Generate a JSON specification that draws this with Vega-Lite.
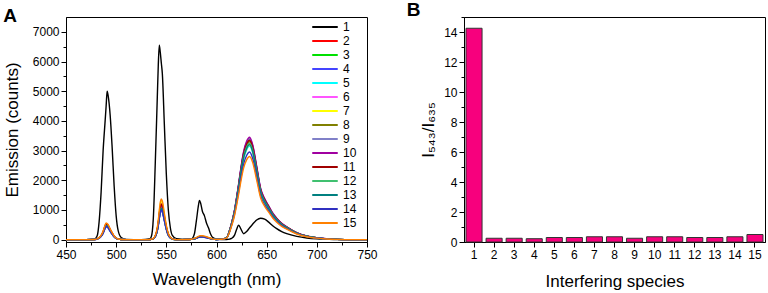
{
  "$schema": "https://vega.github.io/schema/vega-lite/v6.json",
  "padding": {"left": 2, "top": 0, "right": 0, "bottom": 0},
  "config": {
    "font": "Liberation Sans",
    "view": {"stroke": "black", "strokeWidth": 1},
    "axis": {"domainColor": "black", "tickColor": "black", "labelColor": "black", "titleColor": "black", "labelFontSize": 12, "titleFontSize": 17, "titleFontWeight": "normal", "grid": false, "tickSize": 5, "labelFont": "Liberation Sans", "titleFont": "Liberation Sans"},
    "title": {"fontSize": 19, "fontWeight": "bold", "anchor": "start", "frame": "bounds", "color": "black", "font": "Liberation Sans"}
  },
  "datasets": {
    "spec": [
      {"w":450,"1":0,"2":0,"3":0,"4":0,"5":0,"6":0,"7":0,"8":0,"9":0,"10":0,"11":0,"12":0,"13":0,"14":0,"15":0},
      {"w":470,"1":0,"2":0,"3":0,"4":0,"5":0,"6":0,"7":0,"8":0,"9":0,"10":0,"11":0,"12":0,"13":0,"14":0,"15":0},
      {"w":478,"1":10,"2":5,"3":5,"4":4,"5":5,"6":5,"7":5,"8":5,"9":4,"10":5,"11":5,"12":5,"13":5,"14":4,"15":6},
      {"w":481,"1":120,"2":27,"3":24,"4":22,"5":24,"6":24,"7":26,"8":25,"9":22,"10":24,"11":26,"12":24,"13":24,"14":22,"15":28},
      {"w":483,"1":600,"2":65,"3":58,"4":52,"5":56,"6":56,"7":62,"8":60,"9":53,"10":58,"11":62,"12":56,"13":56,"14":53,"15":67},
      {"w":485,"1":1600,"2":135,"3":120,"4":108,"5":118,"6":118,"7":130,"8":125,"9":110,"10":120,"11":130,"12":118,"13":118,"14":110,"15":140},
      {"w":487,"1":3000,"2":270,"3":240,"4":215,"5":235,"6":235,"7":260,"8":250,"9":220,"10":240,"11":260,"12":235,"13":235,"14":220,"15":280},
      {"w":489,"1":4000,"2":475,"3":422,"4":378,"5":414,"6":414,"7":458,"8":440,"9":387,"10":422,"11":458,"12":414,"13":414,"14":387,"15":493},
      {"w":490,"1":4500,"2":540,"3":480,"4":430,"5":470,"6":470,"7":520,"8":500,"9":440,"10":480,"11":520,"12":470,"13":470,"14":440,"15":560},
      {"w":491,"1":5000,"2":524,"3":466,"4":417,"5":456,"6":456,"7":504,"8":485,"9":427,"10":466,"11":504,"12":456,"13":456,"14":427,"15":543},
      {"w":492,"1":4850,"2":486,"3":432,"4":387,"5":423,"6":423,"7":468,"8":450,"9":396,"10":432,"11":468,"12":423,"13":423,"14":396,"15":504},
      {"w":494,"1":4200,"2":351,"3":312,"4":280,"5":306,"6":306,"7":338,"8":325,"9":286,"10":312,"11":338,"12":306,"13":306,"14":286,"15":364},
      {"w":496,"1":3100,"2":227,"3":202,"4":181,"5":197,"6":197,"7":218,"8":210,"9":185,"10":202,"11":218,"12":197,"13":197,"14":185,"15":235},
      {"w":498,"1":1800,"2":119,"3":106,"4":95,"5":103,"6":103,"7":114,"8":110,"9":97,"10":106,"11":114,"12":103,"13":103,"14":97,"15":123},
      {"w":500,"1":800,"2":54,"3":48,"4":43,"5":47,"6":47,"7":52,"8":50,"9":44,"10":48,"11":52,"12":47,"13":47,"14":44,"15":56},
      {"w":502,"1":300,"2":22,"3":19,"4":17,"5":19,"6":19,"7":21,"8":20,"9":18,"10":19,"11":21,"12":19,"13":19,"14":18,"15":22},
      {"w":505,"1":70,"2":5,"3":5,"4":4,"5":5,"6":5,"7":5,"8":5,"9":4,"10":5,"11":5,"12":5,"13":5,"14":4,"15":6},
      {"w":510,"1":10,"2":0,"3":0,"4":0,"5":0,"6":0,"7":0,"8":0,"9":0,"10":0,"11":0,"12":0,"13":0,"14":0,"15":0},
      {"w":525,"1":0,"2":0,"3":0,"4":0,"5":0,"6":0,"7":0,"8":0,"9":0,"10":0,"11":0,"12":0,"13":0,"14":0,"15":0},
      {"w":533,"1":20,"2":0,"3":0,"4":0,"5":0,"6":0,"7":0,"8":0,"9":0,"10":0,"11":0,"12":0,"13":0,"14":0,"15":0},
      {"w":535,"1":100,"2":12,"3":11,"4":10,"5":11,"6":11,"7":13,"8":12,"9":10,"10":12,"11":12,"12":11,"13":11,"14":10,"15":14},
      {"w":537,"1":700,"2":35,"3":32,"4":29,"5":33,"6":32,"7":39,"8":35,"9":30,"10":35,"11":36,"12":32,"13":32,"14":30,"15":41},
      {"w":539,"1":2600,"2":115,"3":105,"4":98,"5":110,"6":105,"7":130,"8":115,"9":100,"10":115,"11":120,"12":105,"13":105,"14":100,"15":137},
      {"w":541,"1":4800,"2":345,"3":315,"4":294,"5":330,"6":315,"7":390,"8":345,"9":300,"10":345,"11":360,"12":315,"13":315,"14":300,"15":411},
      {"w":542,"1":5900,"2":552,"3":504,"4":470,"5":528,"6":504,"7":624,"8":552,"9":480,"10":552,"11":576,"12":504,"13":504,"14":480,"15":658},
      {"w":543,"1":6550,"2":828,"3":756,"4":706,"5":792,"6":756,"7":936,"8":828,"9":720,"10":828,"11":864,"12":756,"13":756,"14":720,"15":986},
      {"w":544,"1":6300,"2":1058,"3":966,"4":902,"5":1012,"6":966,"7":1196,"8":1058,"9":920,"10":1058,"11":1104,"12":966,"13":966,"14":920,"15":1260},
      {"w":545,"1":5950,"2":1150,"3":1050,"4":980,"5":1100,"6":1050,"7":1300,"8":1150,"9":1000,"10":1150,"11":1200,"12":1050,"13":1050,"14":1000,"15":1370},
      {"w":546,"1":5600,"2":1093,"3":998,"4":931,"5":1045,"6":998,"7":1235,"8":1093,"9":950,"10":1093,"11":1140,"12":998,"13":998,"14":950,"15":1302},
      {"w":548,"1":3900,"2":748,"3":683,"4":637,"5":715,"6":683,"7":845,"8":748,"9":650,"10":748,"11":780,"12":683,"13":683,"14":650,"15":891},
      {"w":550,"1":2200,"2":403,"3":368,"4":343,"5":385,"6":368,"7":455,"8":403,"9":350,"10":403,"11":420,"12":368,"13":368,"14":350,"15":480},
      {"w":552,"1":1000,"2":173,"3":158,"4":147,"5":165,"6":158,"7":195,"8":173,"9":150,"10":173,"11":180,"12":158,"13":158,"14":150,"15":206},
      {"w":554,"1":400,"2":69,"3":63,"4":59,"5":66,"6":63,"7":78,"8":69,"9":60,"10":69,"11":72,"12":63,"13":63,"14":60,"15":82},
      {"w":556,"1":140,"2":23,"3":21,"4":20,"5":22,"6":21,"7":26,"8":23,"9":20,"10":23,"11":24,"12":21,"13":21,"14":20,"15":27},
      {"w":560,"1":30,"2":0,"3":0,"4":0,"5":0,"6":0,"7":0,"8":0,"9":0,"10":0,"11":0,"12":0,"13":0,"14":0,"15":0},
      {"w":570,"1":5,"2":2,"3":2,"4":2,"5":2,"6":2,"7":2,"8":2,"9":2,"10":2,"11":2,"12":2,"13":2,"14":2,"15":3},
      {"w":575,"1":20,"2":10,"3":10,"4":9,"5":10,"6":10,"7":11,"8":10,"9":9,"10":10,"11":11,"12":10,"13":10,"14":9,"15":13},
      {"w":578,"1":200,"2":30,"3":30,"4":27,"5":30,"6":30,"7":33,"8":30,"9":27,"10":30,"11":33,"12":30,"13":30,"14":27,"15":39},
      {"w":580,"1":650,"2":55,"3":55,"4":50,"5":55,"6":55,"7":61,"8":55,"9":50,"10":55,"11":61,"12":55,"13":55,"14":50,"15":72},
      {"w":582,"1":1150,"2":85,"3":85,"4":77,"5":85,"6":85,"7":94,"8":85,"9":77,"10":85,"11":94,"12":85,"13":85,"14":77,"15":111},
      {"w":583,"1":1320,"2":95,"3":95,"4":86,"5":95,"6":95,"7":105,"8":95,"9":86,"10":95,"11":105,"12":95,"13":95,"14":86,"15":124},
      {"w":584,"1":1250,"2":100,"3":100,"4":90,"5":100,"6":100,"7":110,"8":100,"9":90,"10":100,"11":110,"12":100,"13":100,"14":90,"15":130},
      {"w":586,"1":950,"2":100,"3":100,"4":90,"5":100,"6":100,"7":110,"8":100,"9":90,"10":100,"11":110,"12":100,"13":100,"14":90,"15":130},
      {"w":588,"1":800,"2":90,"3":90,"4":81,"5":90,"6":90,"7":99,"8":90,"9":81,"10":90,"11":99,"12":90,"13":90,"14":81,"15":117},
      {"w":590,"1":560,"2":75,"3":75,"4":68,"5":75,"6":75,"7":83,"8":75,"9":68,"10":75,"11":83,"12":75,"13":75,"14":68,"15":98},
      {"w":592,"1":400,"2":55,"3":55,"4":50,"5":55,"6":55,"7":61,"8":55,"9":50,"10":55,"11":61,"12":55,"13":55,"14":50,"15":72},
      {"w":594,"1":200,"2":35,"3":35,"4":32,"5":35,"6":35,"7":39,"8":35,"9":32,"10":35,"11":39,"12":35,"13":35,"14":32,"15":46},
      {"w":596,"1":80,"2":20,"3":20,"4":18,"5":20,"6":20,"7":22,"8":20,"9":18,"10":20,"11":22,"12":20,"13":20,"14":18,"15":26},
      {"w":600,"1":20,"2":6,"3":6,"4":5,"5":6,"6":6,"7":7,"8":6,"9":5,"10":6,"11":7,"12":6,"13":6,"14":5,"15":8},
      {"w":605,"1":5,"2":17,"3":17,"4":17,"5":16,"6":16,"7":16,"8":17,"9":17,"10":17,"11":17,"12":16,"13":16,"14":15,"15":14},
      {"w":610,"1":5,"2":59,"3":60,"4":61,"5":57,"6":59,"7":58,"8":59,"9":61,"10":62,"11":60,"12":59,"13":58,"14":53,"15":50},
      {"w":613,"1":15,"2":297,"3":302,"4":306,"5":284,"6":293,"7":288,"8":297,"9":306,"10":311,"11":302,"12":293,"13":288,"14":266,"15":252},
      {"w":615,"1":40,"2":528,"3":536,"4":544,"5":504,"6":520,"7":512,"8":528,"9":544,"10":552,"11":536,"12":520,"13":512,"14":472,"15":448},
      {"w":618,"1":150,"2":957,"3":972,"4":986,"5":914,"6":943,"7":928,"8":957,"9":986,"10":1001,"11":972,"12":943,"13":928,"14":856,"15":812},
      {"w":620,"1":340,"2":1353,"3":1374,"4":1394,"5":1292,"6":1333,"7":1312,"8":1353,"9":1394,"10":1415,"11":1374,"12":1333,"13":1312,"14":1210,"15":1148},
      {"w":622,"1":490,"2":1782,"3":1809,"4":1836,"5":1701,"6":1755,"7":1728,"8":1782,"9":1836,"10":1863,"11":1809,"12":1755,"13":1728,"14":1593,"15":1512},
      {"w":624,"1":380,"2":2244,"3":2278,"4":2312,"5":2142,"6":2210,"7":2176,"8":2244,"9":2312,"10":2346,"11":2278,"12":2210,"13":2176,"14":2006,"15":1904},
      {"w":627,"1":200,"2":2838,"3":2881,"4":2924,"5":2709,"6":2795,"7":2752,"8":2838,"9":2924,"10":2967,"11":2881,"12":2795,"13":2752,"14":2537,"15":2408},
      {"w":630,"1":270,"2":3168,"3":3216,"4":3264,"5":3024,"6":3120,"7":3072,"8":3168,"9":3264,"10":3312,"11":3216,"12":3120,"13":3072,"14":2832,"15":2688},
      {"w":633,"1":400,"2":3300,"3":3350,"4":3400,"5":3150,"6":3250,"7":3200,"8":3300,"9":3400,"10":3450,"11":3350,"12":3250,"13":3200,"14":2950,"15":2800},
      {"w":636,"1":520,"2":3069,"3":3116,"4":3162,"5":2930,"6":3023,"7":2976,"8":3069,"9":3162,"10":3209,"11":3116,"12":3023,"13":2976,"14":2744,"15":2604},
      {"w":640,"1":660,"2":2376,"3":2412,"4":2448,"5":2268,"6":2340,"7":2304,"8":2376,"9":2448,"10":2484,"11":2412,"12":2340,"13":2304,"14":2124,"15":2016},
      {"w":644,"1":720,"2":1650,"3":1675,"4":1700,"5":1575,"6":1625,"7":1600,"8":1650,"9":1700,"10":1725,"11":1675,"12":1625,"13":1600,"14":1475,"15":1400},
      {"w":648,"1":690,"2":1320,"3":1340,"4":1360,"5":1260,"6":1300,"7":1280,"8":1320,"9":1360,"10":1380,"11":1340,"12":1300,"13":1280,"14":1180,"15":1120},
      {"w":652,"1":590,"2":1089,"3":1106,"4":1122,"5":1040,"6":1073,"7":1056,"8":1089,"9":1122,"10":1139,"11":1106,"12":1073,"13":1056,"14":974,"15":924},
      {"w":656,"1":470,"2":858,"3":871,"4":884,"5":819,"6":845,"7":832,"8":858,"9":884,"10":897,"11":871,"12":845,"13":832,"14":767,"15":728},
      {"w":660,"1":370,"2":693,"3":704,"4":714,"5":662,"6":683,"7":672,"8":693,"9":714,"10":725,"11":704,"12":683,"13":672,"14":620,"15":588},
      {"w":665,"1":270,"2":528,"3":536,"4":544,"5":504,"6":520,"7":512,"8":528,"9":544,"10":552,"11":536,"12":520,"13":512,"14":472,"15":448},
      {"w":670,"1":200,"2":413,"3":419,"4":425,"5":394,"6":406,"7":400,"8":413,"9":425,"10":431,"11":419,"12":406,"13":400,"14":369,"15":350},
      {"w":680,"1":110,"2":224,"3":228,"4":231,"5":214,"6":221,"7":218,"8":224,"9":231,"10":235,"11":228,"12":221,"13":218,"14":201,"15":190},
      {"w":690,"1":55,"2":116,"3":117,"4":119,"5":110,"6":114,"7":112,"8":116,"9":119,"10":121,"11":117,"12":114,"13":112,"14":103,"15":98},
      {"w":700,"1":25,"2":59,"3":60,"4":61,"5":57,"6":59,"7":58,"8":59,"9":61,"10":62,"11":60,"12":59,"13":58,"14":53,"15":50},
      {"w":710,"1":10,"2":26,"3":27,"4":27,"5":25,"6":26,"7":26,"8":26,"9":27,"10":28,"11":27,"12":26,"13":26,"14":24,"15":22},
      {"w":720,"1":0,"2":10,"3":10,"4":10,"5":9,"6":10,"7":10,"8":10,"9":10,"10":10,"11":10,"12":10,"13":10,"14":9,"15":8},
      {"w":735,"1":0,"2":0,"3":0,"4":0,"5":0,"6":0,"7":0,"8":0,"9":0,"10":0,"11":0,"12":0,"13":0,"14":0,"15":0},
      {"w":750,"1":0,"2":0,"3":0,"4":0,"5":0,"6":0,"7":0,"8":0,"9":0,"10":0,"11":0,"12":0,"13":0,"14":0,"15":0}
    ],
    "bars": [
      {"sp":"1","r":14.25},{"sp":"2","r":0.25},{"sp":"3","r":0.25},{"sp":"4","r":0.22},{"sp":"5","r":0.3},
      {"sp":"6","r":0.3},{"sp":"7","r":0.35},{"sp":"8","r":0.35},{"sp":"9","r":0.25},{"sp":"10","r":0.35},
      {"sp":"11","r":0.35},{"sp":"12","r":0.3},{"sp":"13","r":0.3},{"sp":"14","r":0.35},{"sp":"15","r":0.5}
    ]
  },
  "spacing": 28,
  "hconcat": [
    {
      "width": 301,
      "height": 225,
      "title": {"text": "A", "offset": -9},
      "data": {"name": "spec"},
      "transform": [{"fold": ["1","2","3","4","5","6","7","8","9","10","11","12","13","14","15"], "as": ["series", "value"]}],
      "mark": {"type": "line", "strokeWidth": 1.4, "interpolate": "monotone", "clip": true},
      "encoding": {
        "x": {"field": "w", "type": "quantitative", "scale": {"domain": [450, 750], "nice": false},
          "axis": {"title": "Wavelength (nm)", "values": [450,475,500,525,550,575,600,625,650,675,700,725,750], "format": "d",
            "labelExpr": "datum.value % 50 === 0 ? datum.label : ''", "labelOverlap": false, "labelFlush": false,
            "tickSize": {"condition": {"test": "datum.value % 50 === 0", "value": 5}, "value": 3}, "titlePadding": 11}},
        "y": {"field": "value", "type": "quantitative", "scale": {"domain": [-80, 7500], "nice": false},
          "axis": {"title": "Emission (counts)", "values": [0,500,1000,1500,2000,2500,3000,3500,4000,4500,5000,5500,6000,6500,7000], "format": "d",
            "labelExpr": "datum.value % 1000 === 0 ? datum.label : ''", "labelOverlap": false,
            "tickSize": {"condition": {"test": "datum.value % 1000 === 0", "value": 5}, "value": 3}, "titlePadding": 11}},
        "color": {"field": "series", "type": "nominal",
          "scale": {"domain": ["1","2","3","4","5","6","7","8","9","10","11","12","13","14","15"],
            "range": ["#000000","#FF0000","#00E000","#4444FF","#00FFFF","#FF55FF","#FFFF00","#808000","#8080C8","#A000A0","#A00000","#40C070","#008080","#3030C0","#FF8000"]},
          "legend": {"title": null, "orient": "none", "legendX": 245, "legendY": 3, "symbolType": "stroke", "symbolSize": 650, "symbolStrokeWidth": 2, "clipHeight": 14, "rowPadding": 0, "labelFontSize": 12, "labelOffset": 4, "labelColor": "black"}}
      }
    },
    {
      "width": 301,
      "height": 225,
      "title": {"text": "B", "offset": -9, "dx": -13},
      "data": {"name": "bars"},
      "mark": {"type": "bar", "color": "#F7007D", "stroke": "#333333", "strokeWidth": 1},
      "encoding": {
        "x": {"field": "sp", "type": "ordinal", "sort": null, "scale": {"paddingInner": 0.2, "paddingOuter": 0.1},
          "axis": {"title": "Interfering species", "labelAngle": 0, "titlePadding": 13}},
        "y": {"field": "r", "type": "quantitative", "scale": {"domain": [0, 15], "nice": false},
          "axis": {"title": "I₅₄₃/I₆₃₅", "values": [0,1,2,3,4,5,6,7,8,9,10,11,12,13,14,15],
            "labelExpr": "datum.value % 2 === 0 ? datum.label : ''", "labelOverlap": false,
            "tickSize": {"condition": {"test": "datum.value % 2 === 0", "value": 5}, "value": 3}, "titlePadding": 6}}
      }
    }
  ]
}
